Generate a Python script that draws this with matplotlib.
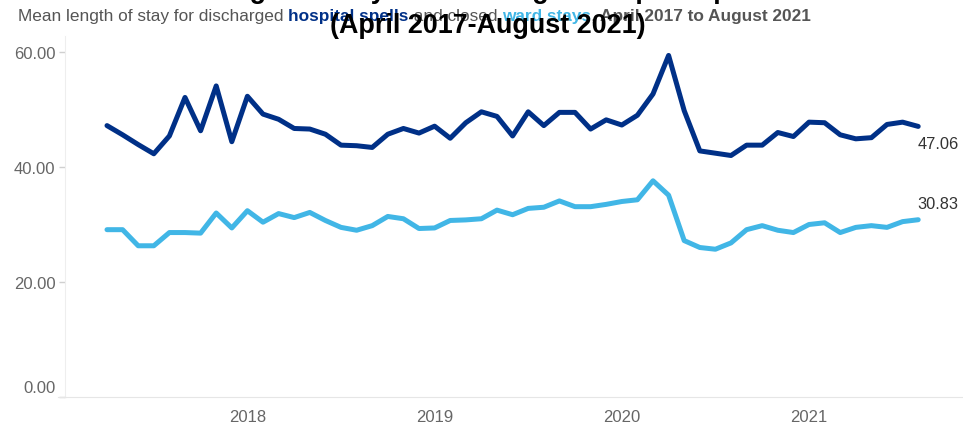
import matplotlib
matplotlib.use("Agg")
import matplotlib.pyplot as plt
import numpy as np
from matplotlib.transforms import ScaledTranslation
from matplotlib.lines import Line2D

plt.rcParams['font.family'] = ['Liberation Sans', 'DejaVu Sans']

# Monthly data, April 2017 .. August 2021 (53 months)
months = np.arange(53)
hospital_spells = [47.2, 45.6, 43.9, 42.3, 45.4, 52.1, 46.3, 54.1, 44.4, 52.3,
                   49.2, 48.3, 46.7, 46.6, 45.7, 43.8, 43.7, 43.4, 45.7, 46.7,
                   45.9, 47.1, 45.0, 47.7, 49.6, 48.8, 45.4, 49.6, 47.2, 49.5,
                   49.5, 46.6, 48.2, 47.3, 49.0, 52.7, 59.4, 49.8, 42.8, 42.4,
                   42.0, 43.8, 43.8, 46.0, 45.3, 47.8, 47.7, 45.6, 44.9, 45.1,
                   47.4, 47.8, 47.06]
ward_stays = [29.1, 29.1, 26.3, 26.3, 28.6, 28.6, 28.5, 32.0, 29.4, 32.4,
              30.4, 31.9, 31.2, 32.1, 30.7, 29.5, 29.0, 29.8, 31.4, 31.0,
              29.3, 29.4, 30.7, 30.8, 31.0, 32.5, 31.7, 32.8, 33.0, 34.1,
              33.1, 33.1, 33.5, 34.0, 34.3, 37.6, 35.1, 27.2, 26.0, 25.7,
              26.8, 29.1, 29.8, 29.0, 28.6, 30.0, 30.3, 28.6, 29.5, 29.8,
              29.5, 30.5, 30.83]
year_tick_pos = [9, 21, 33, 45]
year_labels = ['2018', '2019', '2020', '2021']
y_ticks = [0, 20, 40, 60]
y_tick_labels = ['0.00', '20.00', '40.00', '60.00']

DARK = '#003087'
LIGHT = '#41B6E6'
GREY = '#666666'

W, H = 963, 427
fig = plt.figure(figsize=(W / 100, H / 100), dpi=100)
ax = fig.add_axes([65 / W, (H - 398) / H, (W - 1 - 65) / W, (398 - 37) / H])

ax.plot(months, hospital_spells, color=DARK, lw=3.6, solid_joinstyle='round', solid_capstyle='round')
ax.plot(months, ward_stays, color=LIGHT, lw=3.6, solid_joinstyle='round', solid_capstyle='round')

# x mapping: point 0 at 107px, 15.6px per month
px_per = 15.6
ax.set_xlim(-(107 - 65) / px_per, (W - 1 - 107) / px_per)
ax.set_ylim(0, (398 - 37) / 5.75)

ax.set_xticks(year_tick_pos)
ax.set_xticklabels(year_labels)
ax.set_yticks(y_ticks)
ax.set_yticklabels(y_tick_labels)
ax.tick_params(axis='x', length=0, pad=8.5, labelsize=12, labelcolor=GREY)
ax.tick_params(axis='y', length=4, width=1, color='#d0d0d0', pad=3, labelsize=12, labelcolor=GREY)
# lift the 0.00 label off the baseline
for lab in ax.get_yticklabels():
    if lab.get_text() == '0.00':
        lab.set_transform(lab.get_transform() + ScaledTranslation(0, 11 / 100, fig.dpi_scale_trans))

for s in ['top', 'right']:
    ax.spines[s].set_visible(False)
ax.spines['left'].set_color('#eeeeee')
ax.spines['bottom'].set_color('#e6e6e6')
# small extension of the baseline to the left of the y axis
fig.add_artist(Line2D([58 / W, 65 / W], [(H - 398) / H, (H - 398) / H],
                      color='#e6e6e6', lw=0.8))

# end value labels
last = len(months) - 1
ax.annotate(f'{hospital_spells[-1]:.2f}', (months[last], hospital_spells[-1]),
            xytext=(-1, -17), textcoords='offset pixels', ha='left', va='center',
            fontsize=11.8, color='#333333')
ax.annotate(f'{ward_stays[-1]:.2f}', (months[last], ward_stays[-1]),
            xytext=(-1, 16), textcoords='offset pixels', ha='left', va='center',
            fontsize=11.8, color='#333333')

# subtitle with coloured pieces
pieces = [
    ('Mean length of stay for discharged ', '#555555', 'normal'),
    ('hospital spells', DARK, 'bold'),
    (' and closed ', '#555555', 'normal'),
    ('ward stays', LIGHT, 'bold'),
    (', ', '#555555', 'normal'),
    ('April 2017 to August 2021', '#555555', 'bold'),
]
renderer = fig.canvas.get_renderer()
x = 18 / W
for txt, col, wt in pieces:
    t = fig.text(x, 1 - 21 / H, txt, color=col, fontweight=wt, fontsize=12.4,
                 ha='left', va='baseline')
    bb = t.get_window_extent(renderer=renderer)
    x += bb.width / W

# title (first line clipped at the top of the image)
fig.text(488 / W, 1 + 2 / H, 'Length of stay for discharged hospital spells', ha='center',
         va='baseline', fontsize=19.4, fontweight='bold', color='black')
fig.text(488 / W, 1 - 33 / H, '(April 2017-August 2021)', ha='center',
         va='baseline', fontsize=19.4, fontweight='bold', color='black')

fig.savefig('out.png', dpi=100)
